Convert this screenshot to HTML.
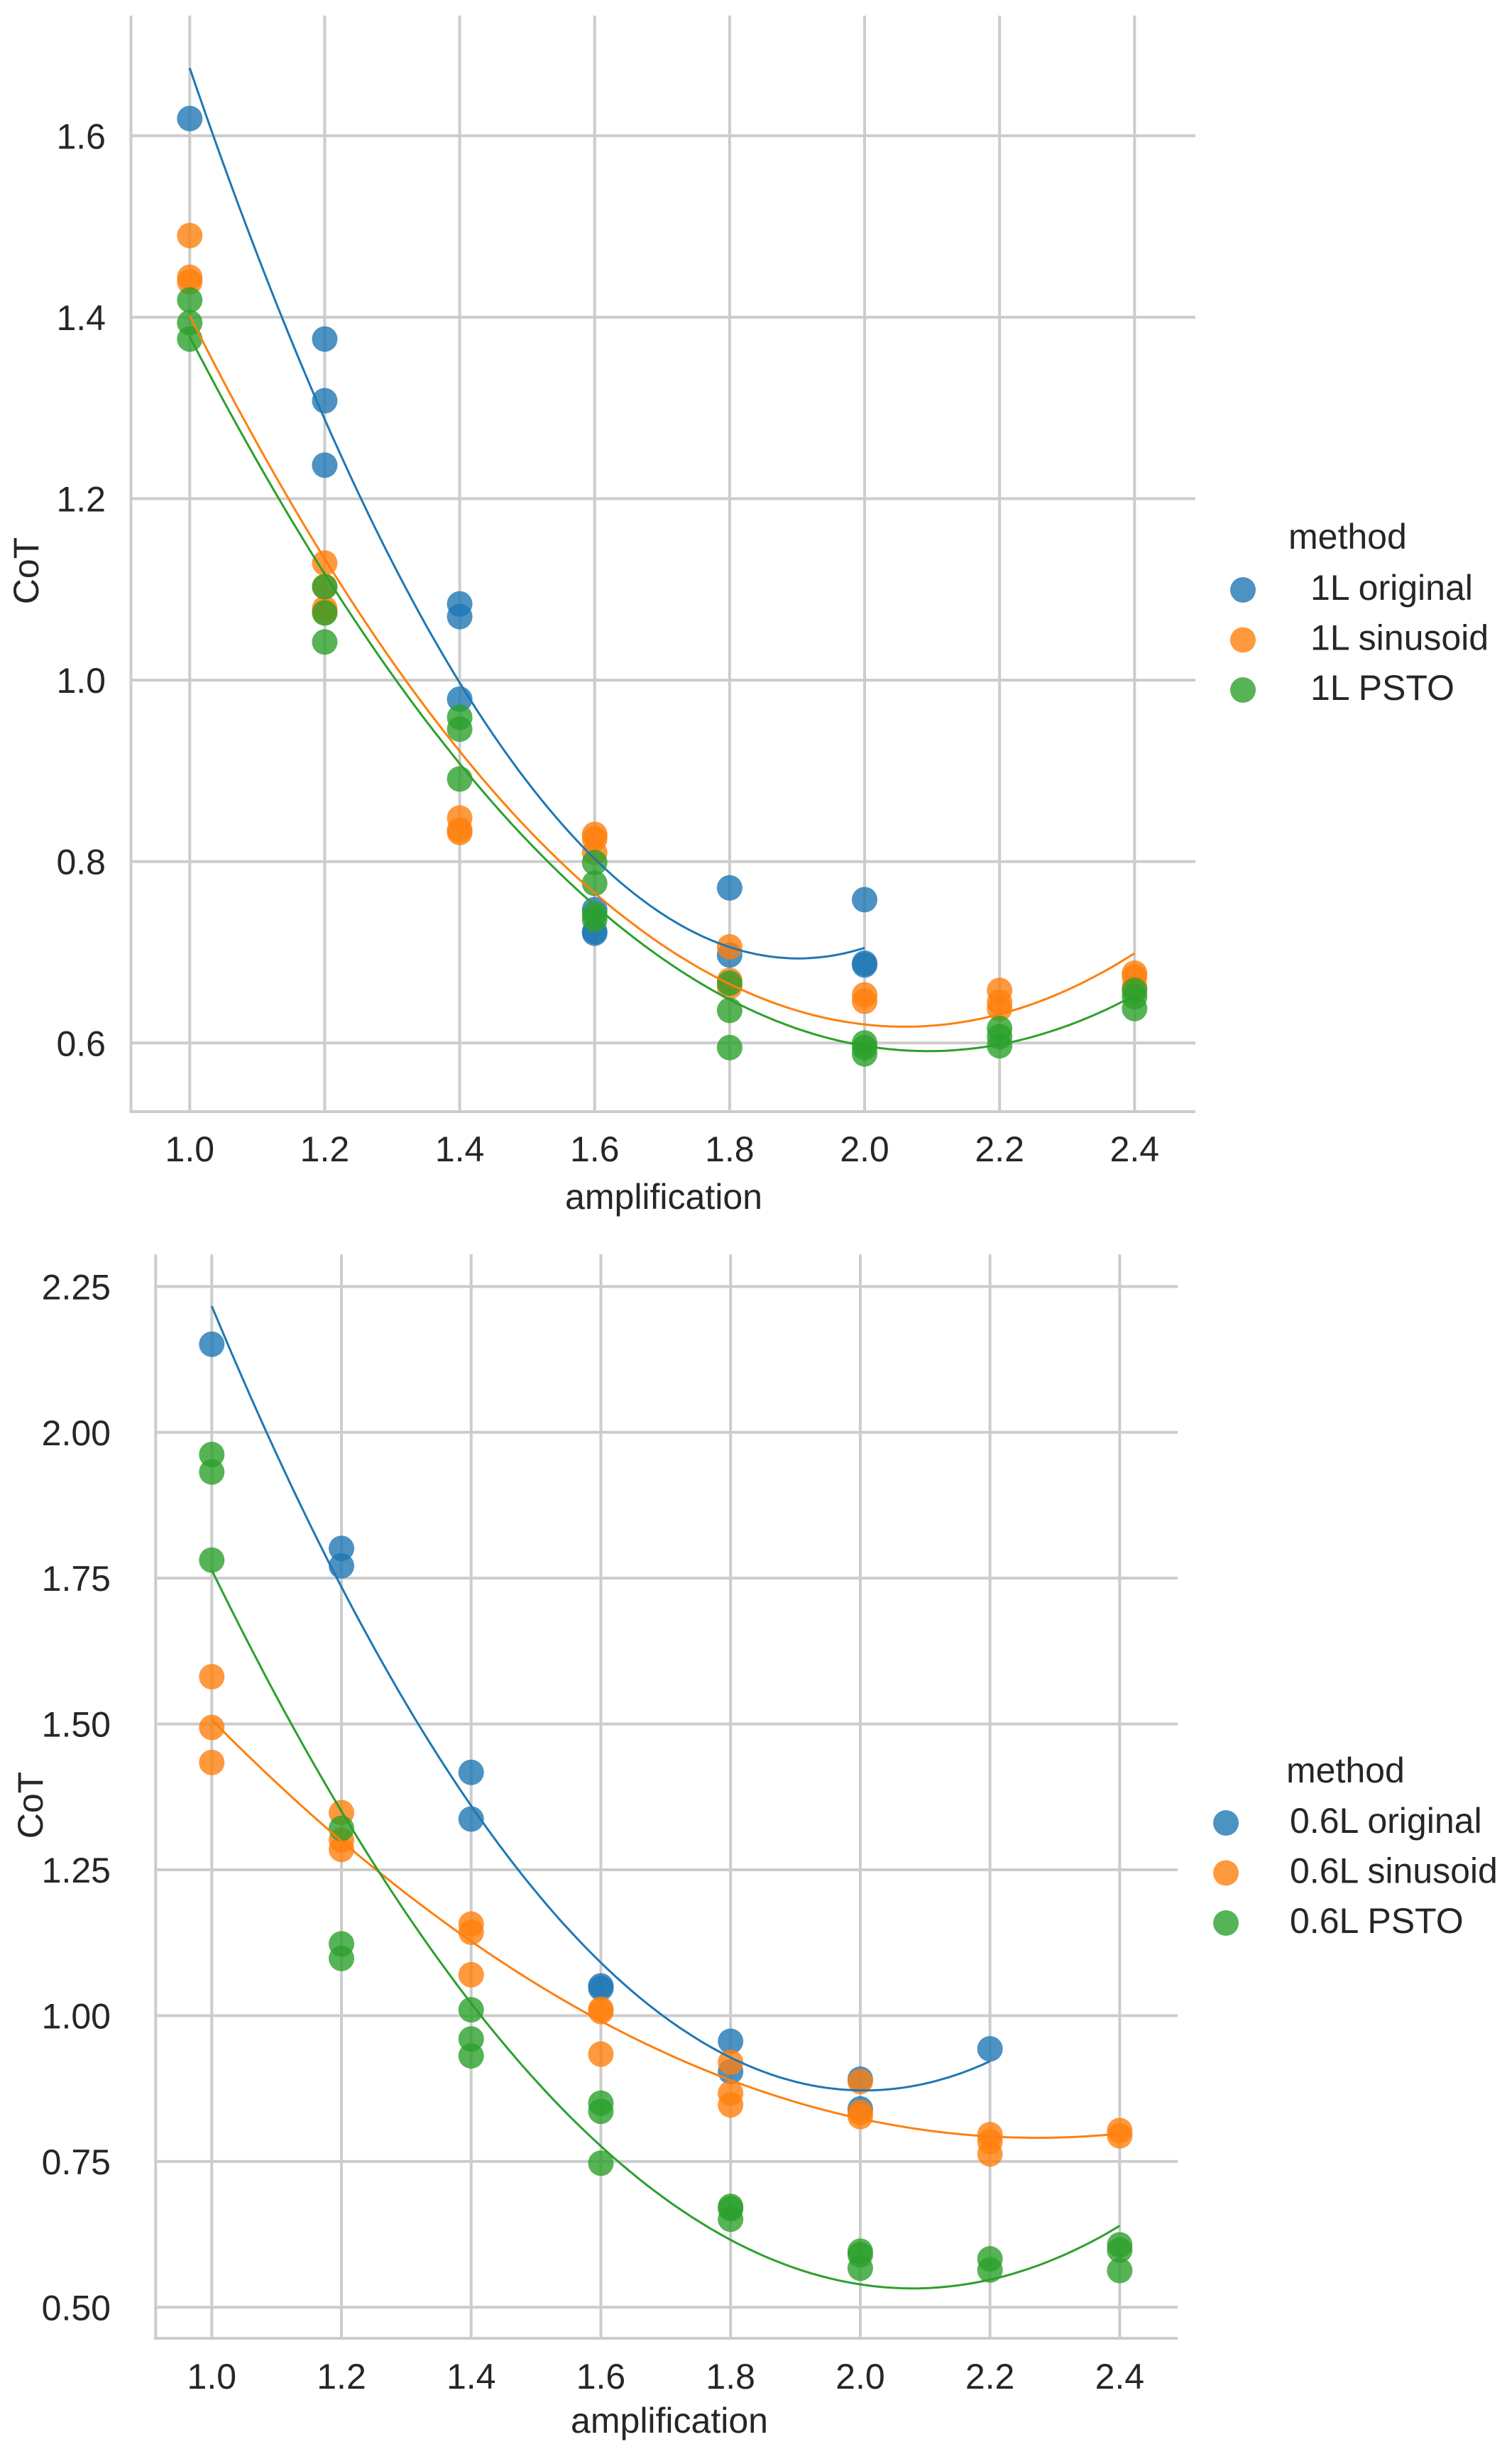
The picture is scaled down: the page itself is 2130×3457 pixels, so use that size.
<!DOCTYPE html>
<html><head><meta charset="utf-8"><style>
html,body{margin:0;padding:0;background:#fff;}
svg text{font-family:"Liberation Sans",Arial,sans-serif;fill:#262626;}
</style></head><body>
<svg id="fig" xmlns="http://www.w3.org/2000/svg" width="2130" height="3452" viewBox="0 0 2130 3452">
<rect width="2130" height="3452" fill="#fff"/>
<g id="top"></g>
<g id="bot"></g>
</svg>
<script>
const xTicks = [1.0,1.2,1.4,1.6,1.8,2.0,2.2,2.4];
const xTickLabels = ["1.0","1.2","1.4","1.6","1.8","2.0","2.2","2.4"];
const topYTicks = [0.6,0.8,1.0,1.2,1.4,1.6];
const topYTickLabels = ["0.6","0.8","1.0","1.2","1.4","1.6"];
const botYTicks = [0.5,0.75,1.0,1.25,1.5,1.75,2.0,2.25];
const botYTickLabels = ["0.50","0.75","1.00","1.25","1.50","1.75","2.00","2.25"];
const topNames = ["1L original","1L sinusoid","1L PSTO"];
const botNames = ["0.6L original","0.6L sinusoid","0.6L PSTO"];
const colors = ["#1f77b4","#ff7f0e","#2ca02c"];

const top1LOriginalX = [1.0,1.2,1.2,1.2,1.4,1.4,1.4,1.6,1.6,1.6,1.8,1.8,2.0,2.0,2.0];
const top1LOriginalY = [1.619,1.376,1.308,1.237,1.084,1.070,0.979,0.747,0.721,0.723,0.771,0.697,0.758,0.688,0.686];
const top1LSinusoidX = [1.0,1.0,1.0,1.2,1.2,1.2,1.2,1.4,1.4,1.4,1.6,1.6,1.6,1.8,1.8,1.8,2.0,2.0,2.2,2.2,2.2,2.4,2.4,2.4];
const top1LSinusoidY = [1.490,1.444,1.439,1.129,1.103,1.079,1.075,0.848,0.835,0.832,0.830,0.825,0.810,0.706,0.669,0.662,0.653,0.646,0.658,0.645,0.638,0.677,0.673,0.662];
const top1LPSTOX = [1.0,1.0,1.0,1.2,1.2,1.2,1.4,1.4,1.4,1.6,1.6,1.6,1.6,1.8,1.8,1.8,2.0,2.0,2.0,2.2,2.2,2.2,2.4,2.4,2.4];
const top1LPSTOY = [1.419,1.394,1.376,1.103,1.074,1.042,0.959,0.946,0.891,0.799,0.776,0.742,0.736,0.666,0.636,0.595,0.600,0.595,0.588,0.616,0.607,0.597,0.658,0.651,0.638];

const bot06OriginalX = [1.0,1.2,1.2,1.4,1.4,1.6,1.6,1.8,1.8,2.0,2.0,2.2];
const bot06OriginalY = [2.151,1.801,1.771,1.417,1.337,1.051,1.047,0.956,0.904,0.891,0.840,0.943];
const bot06SinusoidX = [1.0,1.0,1.0,1.2,1.2,1.2,1.4,1.4,1.4,1.6,1.6,1.6,1.8,1.8,1.8,2.0,2.0,2.0,2.2,2.2,2.2,2.4,2.4];
const bot06SinusoidY = [1.581,1.494,1.434,1.348,1.301,1.285,1.157,1.143,1.070,1.011,1.007,0.934,0.920,0.867,0.847,0.887,0.834,0.827,0.796,0.784,0.763,0.803,0.794];
const bot06PSTOX = [1.0,1.0,1.0,1.2,1.2,1.2,1.4,1.4,1.4,1.6,1.6,1.6,1.8,1.8,1.8,2.0,2.0,2.0,2.2,2.2,2.4,2.4,2.4];
const bot06PSTOY = [1.962,1.932,1.781,1.321,1.123,1.098,1.010,0.960,0.931,0.850,0.836,0.747,0.673,0.669,0.651,0.596,0.590,0.567,0.583,0.564,0.607,0.598,0.563];

const NS="http://www.w3.org/2000/svg";
function mk(parent,tag,attrs,text){const e=document.createElementNS(NS,tag);for(const k in attrs)e.setAttribute(k,attrs[k]);if(text!==undefined)e.textContent=text;parent.appendChild(e);return e;}

function quadFit(xs,ys){
  let S=[0,0,0,0,0],T=[0,0,0];
  for(let i=0;i<xs.length;i++){const x=xs[i],y=ys[i];let p=1;for(let k=0;k<5;k++){S[k]+=p;if(k<3)T[k]+=p*y;p*=x;}}
  const A=[[S[0],S[1],S[2],T[0]],[S[1],S[2],S[3],T[1]],[S[2],S[3],S[4],T[2]]];
  for(let i=0;i<3;i++){for(let j=i+1;j<3;j++){const f=A[j][i]/A[i][i];for(let k=i;k<4;k++)A[j][k]-=f*A[i][k];}}
  const c=[0,0,0];
  for(let i=2;i>=0;i--){let s=A[i][3];for(let k=i+1;k<3;k++)s-=A[i][k]*c[k];c[i]=s/A[i][i];}
  return c;
}

function drawChart(g,cfg){
  const X=v=>cfg.x0+(v-1.0)*cfg.xs;
  const Y=v=>cfg.y0-(v-cfg.yBase)*cfg.ys;
  const grid=mk(g,'g',{});
  
  
  cfg.yTicks.forEach((t,i)=>{
    const l=mk(grid,'line',{x1:cfg.left,x2:cfg.right,y1:Y(t),y2:Y(t),stroke:'#cccccc','stroke-width':4});
    
    
    const tx=mk(g,'text',{x:cfg.labelEnd,y:Y(t)+18,'font-size':50,'text-anchor':'end'},cfg.yLabels[i]);
    
    
  });
  xTicks.forEach((t,i)=>{
    const l=mk(grid,'line',{x1:X(t),x2:X(t),y1:cfg.top,y2:cfg.bottom,stroke:'#cccccc','stroke-width':4});
    
    
    const tx=mk(g,'text',{x:X(t),y:cfg.xLabelY,'font-size':50,'text-anchor':'middle'},xTickLabels[i]);
    
    
  });
  const sp1=mk(g,'line',{x1:cfg.left,x2:cfg.left,y1:cfg.top,y2:cfg.bottom+2,stroke:'#cccccc','stroke-width':4});
  
  
  const sp2=mk(g,'line',{x1:cfg.left-2,x2:cfg.right,y1:cfg.bottom,y2:cfg.bottom,stroke:'#cccccc','stroke-width':4});
  
  
  cfg.series.forEach((s,si)=>{
    const sg=mk(g,'g',{});
    
    
    for(let i=0;i<s.x.length;i++){
      const c=mk(sg,'circle',{cx:X(s.x[i]),cy:Y(s.y[i]),r:18,fill:colors[si],'fill-opacity':0.8});
      
      
    }
  });
  cfg.series.forEach((s,si)=>{
    const c=quadFit(s.x,s.y);
    const lo=Math.min(...s.x),hi=Math.max(...s.x);
    let d='';
    for(let k=0;k<=100;k++){const v=lo+(hi-lo)*k/100;const yv=c[0]+c[1]*v+c[2]*v*v;d+=(k?'L':'M')+X(v).toFixed(1)+','+Y(yv).toFixed(1);}
    const p=mk(g,'path',{d:d,fill:'none',stroke:colors[si],'stroke-width':3});
    
    
  });
  const xl=mk(g,'text',{x:cfg.xTitleX,y:cfg.xTitleY,'font-size':50,'text-anchor':'middle'},'amplification');
  
  
  const yl=mk(g,'text',{x:0,y:0,'font-size':50,'text-anchor':'middle',transform:`translate(${cfg.yTitleX},${cfg.yTitleY}) rotate(-90)`},'CoT');
  
  
  const lg=mk(g,'g',{});
  
  
  const lt=mk(lg,'text',{x:cfg.lgTitleX,y:cfg.lgTitleY,'font-size':50},'method');
  
  
  cfg.names.forEach((n,i)=>{
    const c=mk(lg,'circle',{cx:cfg.lgDotX,cy:cfg.lgDotY+i*70.5,r:18,fill:colors[i],'fill-opacity':0.8});
    
    
    const t=mk(lg,'text',{x:cfg.lgTextX,y:cfg.lgDotY+14+i*70.5,'font-size':50},n);
    
    
  });
}

drawChart(document.getElementById('top'),{
  x0:267.3,xs:950.7,y0:1469.3,ys:1278,yBase:0.6,
  left:184.5,right:1684,top:22,bottom:1566,labelEnd:149,xLabelY:1636,
  yTicks:topYTicks,yLabels:topYTickLabels,
  series:[{x:top1LOriginalX,y:top1LOriginalY},{x:top1LSinusoidX,y:top1LSinusoidY},{x:top1LPSTOX,y:top1LPSTOY}],
  names:topNames,xTitleX:935,xTitleY:1703,yTitleX:54,yTitleY:804,
  lgTitleX:1815,lgTitleY:773,lgDotX:1751,lgDotY:831,lgTextX:1846
});
drawChart(document.getElementById('bot'),{
  x0:298.3,xs:913.6,y0:3250.3,ys:821.7,yBase:0.5,
  left:219.3,right:1659,top:1767,bottom:3294,labelEnd:156,xLabelY:3365,
  yTicks:botYTicks,yLabels:botYTickLabels,
  series:[{x:bot06OriginalX,y:bot06OriginalY},{x:bot06SinusoidX,y:bot06SinusoidY},{x:bot06PSTOX,y:bot06PSTOY}],
  names:botNames,xTitleX:943,xTitleY:3427,yTitleX:60,yTitleY:2543,
  lgTitleX:1812,lgTitleY:2511,lgDotX:1727,lgDotY:2568,lgTextX:1817
});
</script>
</body></html>
